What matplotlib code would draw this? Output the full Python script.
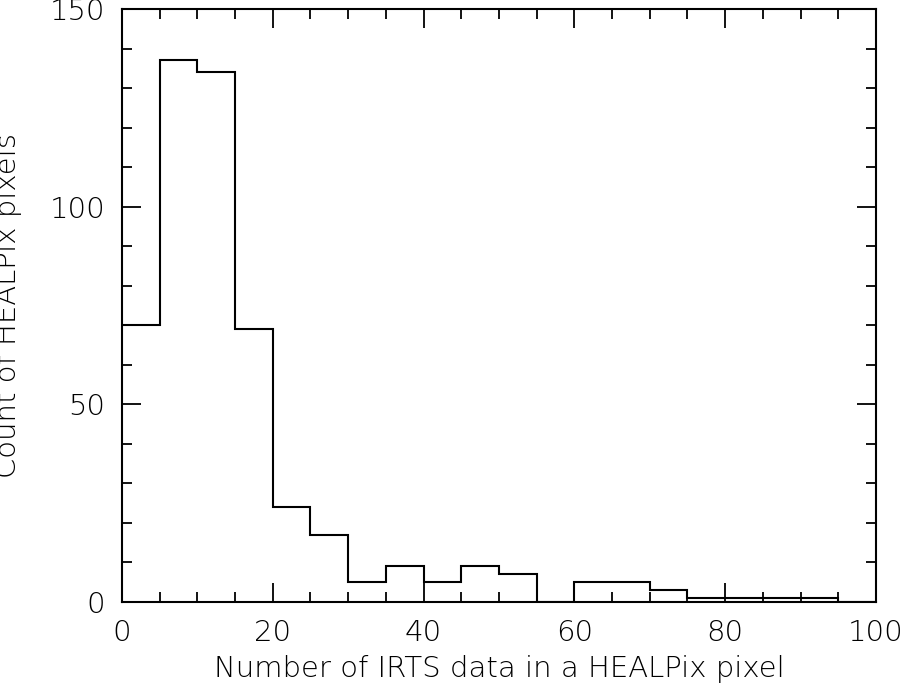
import matplotlib
matplotlib.use("Agg")
import matplotlib.pyplot as plt
import numpy as np
from matplotlib.ticker import MultipleLocator

edges = list(range(0, 105, 5))
counts = [70, 137, 134, 69, 24, 17, 5, 9, 5, 9, 7, 0, 5, 5, 3, 1, 1, 1, 1, 0]

fig = plt.figure(figsize=(9.07, 6.98), dpi=100)
ax = fig.add_axes([0.1345, 0.1375, 0.8313, 0.8495])
ax.stairs(counts, edges, baseline=None, color="black", linewidth=1.5)
ax.set_xlim(0, 100)
ax.set_ylim(0, 150)
ax.xaxis.set_major_locator(MultipleLocator(20))
ax.xaxis.set_minor_locator(MultipleLocator(5))
ax.yaxis.set_major_locator(MultipleLocator(50))
ax.yaxis.set_minor_locator(MultipleLocator(10))
ax.tick_params(which="both", direction="in", top=True, right=True, labelsize=21, width=1.3)
ax.tick_params(which="major", length=14, pad=12)
ax.tick_params(which="minor", length=7)
for lab in ax.get_xticklabels() + ax.get_yticklabels():
    lab.set_fontweight("light")
for s in ax.spines.values():
    s.set_linewidth(1.5)
ax.set_xlabel("Number of IRTS data in a HEALPix pixel", fontsize=21, fontweight="light", labelpad=6)
ax.set_ylabel("Count of HEALPix pixels", fontsize=21, fontweight="light", labelpad=20)
fig.savefig("out.png", dpi=100)
